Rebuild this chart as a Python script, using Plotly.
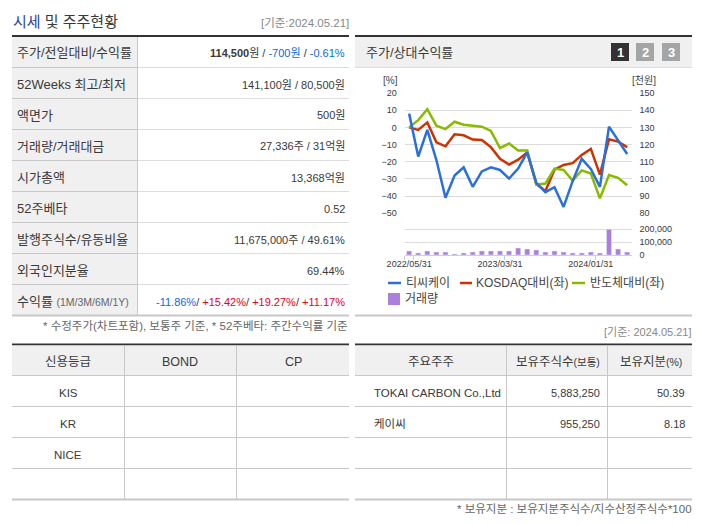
# -*- coding: utf-8 -*-
"""Stock summary panel: quote table, price/relative return chart, rating and shareholder tables."""

import plotly.graph_objects as go

W, H = 702, 525

# chart data
dates = [
    "2022/05/31", "2022/06/30", "2022/07/31", "2022/08/31", "2022/09/30", "2022/10/31", "2022/11/30",
    "2022/12/31", "2023/01/31", "2023/02/28", "2023/03/31", "2023/04/30", "2023/05/31", "2023/06/30",
    "2023/07/31", "2023/08/31", "2023/09/30", "2023/10/31", "2023/11/30", "2023/12/31", "2024/01/31",
    "2024/02/29", "2024/03/31", "2024/04/30", "2024/05/21",
]
price = [138, 113, 128.5, 111, 89, 102, 106.7, 95.4, 104.4, 106.7, 105.2, 100.2, 106, 115.4, 97.7,
         92.3, 95.2, 83.7, 98.7, 111.7, 105.8, 95.4, 130.4, 122.7, 114.5]
kosdaq_rel = [0, -1.5, 2.9, -8.7, -11, -4, -4.6, -7.1, -7.3, -11.5, -18.3, -21.7, -18.8, -14.6, -32.9,
              -37, -24.6, -21.9, -20.8, -16, -12.5, -27.5, -6.9, -8.3, -11.5]
semi_rel = [0, 4.2, 10.6, 1, -1, 3.3, 1.5, 1, 0.4, -2.1, -12.1, -9.4, -13.5, -13.5, -33.3,
            -32.7, -24, -24.8, -31, -25, -26.9, -41.3, -27.7, -29.4, -33.7]
volume = [31000, 16000, 31000, 23000, 23000, 8000, 16000, 23000, 31000, 31000, 31000, 31000, 54000,
          46000, 39000, 23000, 31000, 23000, 16000, 16000, 23000, 16000, 200000, 46000, 23000]
date_ticks = ["2022/05/31", "2023/03/31", "2024/01/31"]
pct_ticks = [20, 10, 0, -10, -20, -30, -40, -50]
won_ticks = [150, 140, 130, 120, 110, 100, 90, 80]
vol_ticks = [0, 100000, 200000, 300000]
vol_labels = ["0", "100,000", "200,000", ""]

# table contents
BLUE = "#0a6be0"
RED = "#e0002a"
quote_labels = [
    "주가/전일대비/수익률", "52Weeks 최고/최저", "액면가", "거래량/거래대금", "시가총액", "52주베타",
    "발행주식수/유동비율", "외국인지분율", "수익률 <span style='font-size:10.5px;color:#666'>(1M/3M/6M/1Y)</span>",
]
quote_values = [
    f"<b>114,500</b>원 / <span style='color:{BLUE}'>-700원</span> / <span style='color:{BLUE}'>-0.61%</span>",
    "141,100원 / 80,500원", "500원", "27,336주 / 31억원", "13,368억원", "0.52",
    "11,675,000주 / 49.61%", "69.44%",
    f"<span style='color:{BLUE}'>-11.86%</span>/ <span style='color:{RED}'>+15.42%</span>/ "
    f"<span style='color:{RED}'>+19.27%</span>/ <span style='color:{RED}'>+11.17%</span>",
]
rating_head = ["신용등급", "BOND", "CP"]
rating_rows = ["KIS", "KR", "NICE"]
holder_head = ["주요주주", "보유주식수<span style='font-size:10.5px'>(보통)</span>", "보유지분<span style='font-size:10.5px'>(%)</span>"]
holder_names = ["TOKAI CARBON Co.,Ltd", "케이씨"]
holder_shares = ["5,883,250", "955,250"]
holder_ratio = ["50.39", "8.18"]
legend_names = ["티씨케이", "KOSDAQ대비(좌)", "반도체대비(좌)", "거래량"]

FONT = "Liberation Sans, Noto Sans CJK KR, sans-serif"
C_BLUE, C_RED, C_GREEN, C_PURPLE = "#2a6fdb", "#cc3300", "#88bb00", "#ab7fdc"
GRID = "#dcdcdc"
TEXT = "#3a3a3a"


def px(x):
    return x / W


def py(y):
    return 1 - y / H


shapes = []
annotations = []


def rect(x0, y0, x1, y1, color, **kw):
    shapes.append(dict(type="rect", xref="paper", yref="paper", x0=px(x0), x1=px(x1), y0=py(y0), y1=py(y1),
                       fillcolor=color, line_width=0, layer="below", **kw))


def hline(x0, x1, y, color="#dddddd", width=1):
    shapes.append(dict(type="line", xref="paper", yref="paper", x0=px(x0), x1=px(x1), y0=py(y), y1=py(y),
                       line=dict(color=color, width=width), layer="below"))


def vline(x, y0, y1, color="#c8c8c8", width=1):
    shapes.append(dict(type="line", xref="paper", yref="paper", x0=px(x), x1=px(x), y0=py(y0), y1=py(y1),
                       line=dict(color=color, width=width), layer="below"))


def label(x, y, text, size=12, color=TEXT, align="left", family=FONT):
    annotations.append(dict(xref="paper", yref="paper", x=px(x), y=py(y), text=text, showarrow=False,
                            xanchor=align, yanchor="middle", align=align, borderpad=0, borderwidth=0,
                            font=dict(size=size, color=color, family=family)))


# --- quote table ---
label(13, 21.5, "<span style='color:#2f3f9f'>시세</span> 및 주주현황", size=15)
label(349, 23, "[기준:2024.05.21]", size=11.5, color="#888888", align="right")
rect(12, 37, 137.5, 315, "#f0f0f0")
hline(12, 349, 36, "#333333", 2)
row_lines = [67.5, 98.5, 129.5, 160.5, 191.5, 222.5, 253.5, 284.5]
for yl in row_lines:
    hline(137.5, 349, yl, "#dddddd")
    hline(12, 137.5, yl, "#c8c8c8")
hline(12, 349, 315.5, "#c8c8c8", 2)
vline(137.5, 37, 315)
row_centers = [53, 84.5, 115.5, 146.5, 177.5, 208.5, 239.5, 270.5, 301.5]
for yc, name, val in zip(row_centers, quote_labels, quote_values):
    label(16.5, yc, name, size=13)
    label(345, yc, val, size=11, align="right")
label(348, 325.5, "* 수정주가(차트포함), 보통주 기준, * 52주베타: 주간수익률 기준", size=11.5, color="#666666", align="right")

# --- chart panel ---
rect(355, 37, 692, 67, "#f0f0f0")
hline(355, 692, 36, "#333333", 2)
hline(355, 692, 67.5, "#dddddd")
hline(355, 692, 315.5, "#c8c8c8", 2)
label(366, 52, "주가/상대수익률", size=13)
for bx, num, col in [(611, "1", "#333333"), (636, "2", "#a5a5a5"), (662, "3", "#a5a5a5")]:
    rect(bx, 43, bx + 18, 61, col)
    label(bx + 9, 52, f"<b>{num}</b>", size=13, color="#ffffff", align="center")
label(391, 80, "[%]", size=10, align="center", color="#444444")
label(643.5, 80, "[천원]", size=10, align="center", color="#444444")

# hand-placed legend, the native one can't do short line samples
for x0, x1, col, tx, name in [(388, 401, C_BLUE, 406, legend_names[0]), (460, 472, C_RED, 476, legend_names[1]),
                              (572, 585, C_GREEN, 590, legend_names[2])]:
    hline(x0, x1, 283, col, 2.5)
    label(tx, 283, name, size=12, color="#444444")
rect(388, 293, 400, 305, C_PURPLE)
label(405, 299, legend_names[3], size=12, color="#444444")

# --- rating table ---
hline(12, 349, 344.5, "#333333", 2)
rect(12, 345.5, 349, 375.5, "#f0f0f0")
for x_c, name in zip([68, 180, 293], rating_head):
    label(x_c, 361.5, name, size=12.5, align="center")
for yc, name in zip([392.5, 423.5, 454.5], rating_rows):
    label(68, yc, name, size=11.5, align="center")
for yl in [375.5, 406.5, 437.5, 468.5]:
    hline(12, 349, yl, "#c8c8c8")
hline(12, 349, 499.5, "#c8c8c8", 2)
vline(124.5, 345.5, 499)
vline(236.5, 345.5, 499)

# --- shareholder table ---
label(692, 332, "[기준: 2024.05.21]", size=11, color="#888888", align="right")
hline(355, 692, 344.5, "#333333", 2)
rect(355, 345.5, 692, 375.5, "#f0f0f0")
for x_c, name in zip([431, 558, 651], holder_head):
    label(x_c, 361.5, name, size=12.5, align="center")
for yc, name, shares, ratio in zip([392.5, 423.5], holder_names, holder_shares, holder_ratio):
    label(374, yc, name, size=11.5)
    label(600, yc, shares, size=11, align="right")
    label(685, yc, ratio, size=11, align="right")
for yl in [375.5, 406.5, 437.5, 468.5]:
    hline(355, 692, yl, "#c8c8c8")
hline(355, 692, 499.5, "#c8c8c8", 2)
vline(506.5, 345.5, 499)
vline(607.5, 345.5, 499)
label(692, 509, "* 보유지분 : 보유지분주식수/지수산정주식수*100", size=11.5, color="#666666", align="right")

# --- traces ---
fig = go.Figure()
fig.add_trace(go.Bar(x=dates, y=volume, name=legend_names[3], marker_color=C_PURPLE, yaxis="y3", xaxis="x"))
fig.add_trace(go.Scatter(x=dates, y=price, name=legend_names[0], mode="lines", line=dict(color=C_BLUE, width=2.5),
                         yaxis="y2", xaxis="x"))
fig.add_trace(go.Scatter(x=dates, y=kosdaq_rel, name=legend_names[1], mode="lines", line=dict(color=C_RED, width=2.5),
                         yaxis="y", xaxis="x"))
fig.add_trace(go.Scatter(x=dates, y=semi_rel, name=legend_names[2], mode="lines", line=dict(color=C_GREEN, width=2.5),
                         yaxis="y", xaxis="x"))
# empty trace so the tick-mark axis gets drawn
fig.add_trace(go.Scatter(x=[], y=[], xaxis="x2", yaxis="y3", hoverinfo="skip"))

tick_font = dict(size=9, color=TEXT, family="Liberation Sans, sans-serif")
x_domain = [px(404.6), px(631.7)]
fig.update_layout(
    width=W, height=H, margin=dict(l=0, r=0, t=0, b=0), paper_bgcolor="white", plot_bgcolor="white",
    showlegend=False, bargap=0.44, shapes=shapes, annotations=annotations,
    xaxis=dict(domain=x_domain, type="category", categoryorder="array", categoryarray=dates, anchor="y3",
               range=[-0.5, 24.5], tickmode="array", tickvals=date_ticks, ticktext=date_ticks, ticks="",
               tickfont=tick_font, showgrid=False, showline=True, linecolor="#d0d0d0", linewidth=1, zeroline=False,
               automargin=False),
    # tick marks sit on the category edges, not under the labels
    xaxis2=dict(domain=x_domain, overlaying="x", anchor="y3", side="bottom", type="linear", range=[-0.5, 24.5],
                tickmode="array", tickvals=[-0.5, 0.5, 10.5, 20.5], ticks="outside", ticklen=4, tickcolor="#c4cddc",
                showticklabels=False, showgrid=False, zeroline=False, automargin=False),
    yaxis=dict(domain=[py(213.3), py(93)], range=[-50, 20], tickmode="array", tickvals=pct_ticks, anchor="x",
               side="left", gridcolor=GRID, gridwidth=1, zeroline=False, tickfont=tick_font, ticks="outside",
               ticklen=5, tickcolor="rgba(0,0,0,0)", automargin=False),
    yaxis2=dict(domain=[py(213.3), py(93)], range=[80, 150], tickmode="array", tickvals=won_ticks, anchor="x",
                overlaying="y", side="right", showgrid=False, zeroline=False, tickfont=tick_font, ticks="outside",
                ticklen=5, tickcolor="rgba(0,0,0,0)", automargin=False),
    yaxis3=dict(domain=[py(255), py(216.4)], range=[0, 300000], tickmode="array", tickvals=vol_ticks,
                ticktext=vol_labels, anchor="x", side="right", gridcolor=GRID, gridwidth=1, zeroline=False,
                tickfont=tick_font, ticks="outside", ticklen=5, tickcolor="rgba(0,0,0,0)", automargin=False),
)

# browsers add an 8px body margin, which would shift the whole panel
fig.write_html("out.html", config={"displayModeBar": False}, post_script="document.body.style.margin = '0';")
